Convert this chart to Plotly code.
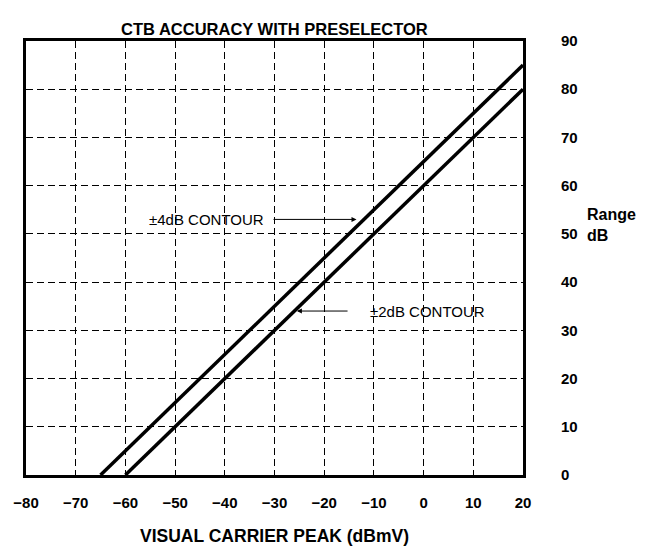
import plotly.graph_objects as go

# Data
contour4_x = [-65, 20]
contour4_y = [0, 85]
contour2_x = [-60, 20]
contour2_y = [0, 80]
x_ticks = [-80, -70, -60, -50, -40, -30, -20, -10, 0, 10, 20]
y_ticks = [0, 10, 20, 30, 40, 50, 60, 70, 80, 90]
title_text = "CTB ACCURACY WITH PRESELECTOR"
x_title = "VISUAL CARRIER PEAK (dBmV)"
y_title_lines = ["Range", "dB"]
label4 = "±4dB CONTOUR"
label2 = "±2dB CONTOUR"

FONT = "Liberation Sans, Arial, sans-serif"

fig = go.Figure()
fig.add_trace(go.Scatter(x=contour4_x, y=contour4_y, mode="lines",
                         line=dict(color="black", width=3.5), showlegend=False))
fig.add_trace(go.Scatter(x=contour2_x, y=contour2_y, mode="lines",
                         line=dict(color="black", width=3.5), showlegend=False))

axis_common = dict(
    showgrid=True, gridcolor="black", gridwidth=1, griddash="7px,4px",
    showline=True, linecolor="black", linewidth=3, mirror=True,
    zeroline=False, ticks="", automargin=False,
    tickfont=dict(family=FONT, size=15, color="black", weight="bold"),
)

annotations = [
    dict(text="<b>" + title_text + "</b>", xref="paper", yref="paper",
         x=0.5, y=1, yshift=23, showarrow=False,
         font=dict(family=FONT, size=16.5, color="black")),
    dict(text="<b>" + x_title + "</b>", xref="paper", yref="paper",
         x=0.5, y=0, yshift=-73, showarrow=False,
         font=dict(family=FONT, size=17.5, color="black")),
    dict(text=label4, x=-43.6, y=53, xref="x", yref="y", showarrow=False,
         font=dict(family=FONT, size=15, color="black")),
    dict(text="", x=-13.5, y=53, ax=-30.5, ay=53, xref="x", yref="y",
         axref="x", ayref="y", showarrow=True, arrowhead=2,
         arrowsize=1, arrowwidth=1, arrowcolor="black"),
    dict(text=label2, x=0.7, y=34, xref="x", yref="y", showarrow=False,
         font=dict(family=FONT, size=15, color="black")),
    dict(text="", x=-25.5, y=34, ax=-15, ay=34, xref="x", yref="y",
         axref="x", ayref="y", showarrow=True, arrowhead=2,
         arrowsize=1, arrowwidth=1, arrowcolor="black"),
]
for i, line in enumerate(y_title_lines):
    annotations.append(dict(
        text="<b>" + line + "</b>", xref="paper", yref="paper",
        x=1, y=0.5, xshift=62, yshift=44 - 21 * i, xanchor="left",
        showarrow=False, font=dict(family=FONT, size=16, color="black")))

fig.update_layout(
    width=648, height=554,
    margin=dict(l=18, r=133, t=33, b=87),
    paper_bgcolor="white", plot_bgcolor="white",
    xaxis=dict(range=[-80, 20], tickvals=x_ticks,
               ticktext=[("−" + str(-v)) if v < 0 else str(v) for v in x_ticks],
               ticklabelstandoff=12, **axis_common),
    yaxis=dict(range=[0, 90], tickvals=y_ticks, side="right",
               ticklabelstandoff=32, **axis_common),
    annotations=annotations,
)

fig.write_html("out.html")
